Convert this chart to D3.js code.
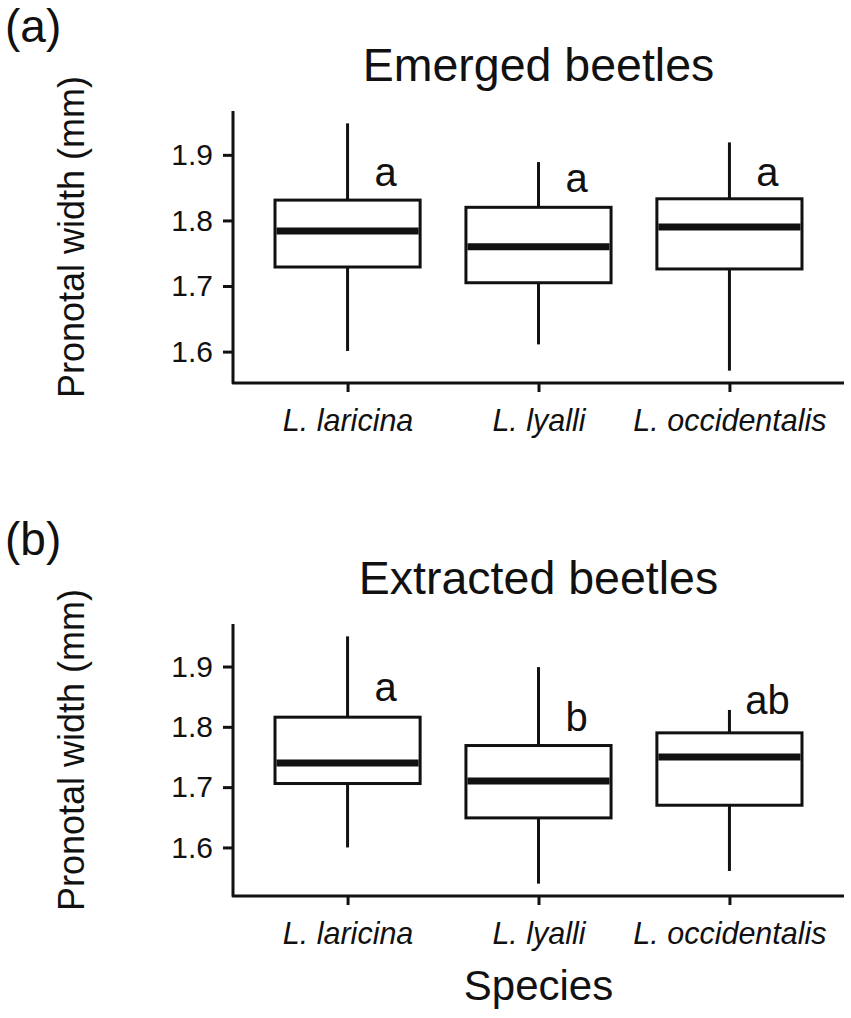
<!DOCTYPE html>
<html>
<head>
<meta charset="utf-8">
<script src="https://cdn.jsdelivr.net/npm/d3@7"></script>
<style>
  body { margin: 0; background: #fff; }
  text { font-family: "Liberation Sans", Arial, sans-serif; fill: #111; }
</style>
</head>
<body>
<svg id="scene" width="851" height="1018"></svg>
<script>
// species on the x axis
const species = ['L. laricina', 'L. lyalli', 'L. occidentalis'];
const yTicks = [1.6, 1.7, 1.8, 1.9];

// (a) emerged beetles: whisker ends, hinges, medians
const emergedLow  = [1.601, 1.611, 1.571];
const emergedQ1   = [1.729, 1.705, 1.726];
const emergedMed  = [1.784, 1.760, 1.790];
const emergedQ3   = [1.831, 1.820, 1.833];
const emergedHigh = [1.948, 1.889, 1.919];
const emergedLetters = ['a', 'a', 'a'];
const emergedLetterY = [1.852, 1.844, 1.853];

// (b) extracted beetles
const extractedLow  = [1.600, 1.540, 1.561];
const extractedQ1   = [1.706, 1.649, 1.670];
const extractedMed  = [1.740, 1.710, 1.750];
const extractedQ3   = [1.816, 1.769, 1.790];
const extractedHigh = [1.950, 1.899, 1.828];
const extractedLetters = ['a', 'b', 'ab'];
const extractedLetterY = [1.843, 1.793, 1.8205];

const left = 233, right = 844, plotH = 272;

let svg = d3.select('#scene');

let scaleX = d3.scalePoint().domain(species).range([left, right]).padding(0.6);

let panel = function (off, tag, title, low, q1, med, q3, high, letters, letterY) {
	let top = 111 + off;
	let bottom = top + plotH;
	let lo = d3.min(low), hi = d3.max(high);
	let pad = (hi - lo) * 0.05;
	let scaleY = d3.scaleLinear().domain([lo - pad, hi + pad]).range([bottom, top]);

	let g = svg.append('g');

	let data = species.map((s, i) => ({
		s: s, low: low[i], q1: q1[i], med: med[i], q3: q3[i], high: high[i],
		letter: letters[i], ly: letterY[i]
	}));
	let bw = scaleX.step() * 0.76;

	// whiskers
	g.selectAll('.whiskerUp').data(data).enter().append('line')
		.attr('x1', (d) => scaleX(d.s)).attr('x2', (d) => scaleX(d.s))
		.attr('y1', (d) => scaleY(d.q3)).attr('y2', (d) => scaleY(d.high))
		.attr('stroke', '#111').attr('stroke-width', 3);
	g.selectAll('.whiskerDown').data(data).enter().append('line')
		.attr('x1', (d) => scaleX(d.s)).attr('x2', (d) => scaleX(d.s))
		.attr('y1', (d) => scaleY(d.q1)).attr('y2', (d) => scaleY(d.low))
		.attr('stroke', '#111').attr('stroke-width', 3);

	// boxes
	g.selectAll('.box').data(data).enter().append('rect')
		.attr('x', (d) => scaleX(d.s) - bw / 2)
		.attr('width', bw)
		.attr('y', (d) => scaleY(d.q3))
		.attr('height', (d) => scaleY(d.q1) - scaleY(d.q3))
		.attr('fill', '#fff').attr('stroke', '#111').attr('stroke-width', 3);

	// medians
	g.selectAll('.median').data(data).enter().append('line')
		.attr('x1', (d) => scaleX(d.s) - bw / 2 + 1.5).attr('x2', (d) => scaleX(d.s) + bw / 2 - 1.5)
		.attr('y1', (d) => scaleY(d.med)).attr('y2', (d) => scaleY(d.med))
		.attr('stroke', '#111').attr('stroke-width', 7);

	// group letters
	g.selectAll('.letter').data(data).enter().append('text')
		.attr('x', (d) => scaleX(d.s) + 38)
		.attr('y', (d) => scaleY(d.ly))
		.attr('text-anchor', 'middle')
		.style('font-size', '40px')
		.text((d) => d.letter);

	// axes
	let ay = g.append('g').attr('transform', `translate(${left},0)`)
		.call(d3.axisLeft(scaleY).tickValues(yTicks).tickFormat(d3.format('.1f'))
			.tickSize(10).tickSizeOuter(0).tickPadding(10));
	ay.select('.domain').remove();
	ay.selectAll('line').attr('stroke', '#111').attr('stroke-width', 3);
	ay.selectAll('text').style('font-size', '30px').style('font-family', null).attr('fill', '#111');

	let ax = g.append('g').attr('transform', `translate(0,${bottom})`)
		.call(d3.axisBottom(scaleX).tickSize(9).tickSizeOuter(0).tickPadding(0));
	ax.select('.domain').remove();
	ax.selectAll('line').attr('stroke', '#111').attr('stroke-width', 3);
	ax.selectAll('text').attr('y', 48).attr('dy', null).attr('fill', '#111')
		.style('font-size', '30.5px').style('font-style', 'italic').style('font-family', null);

	// axis lines, joined at the corner
	g.append('path')
		.attr('d', `M${left},${top}V${bottom}H${right}`)
		.attr('fill', 'none').attr('stroke', '#111').attr('stroke-width', 3)
		.attr('stroke-linejoin', 'round');

	// tag, title, y title
	g.append('text').attr('x', 5).attr('y', 42 + off)
		.style('font-size', '46px').text(tag);
	g.append('text').attr('x', (left + right) / 2).attr('y', 81 + off)
		.attr('text-anchor', 'middle').style('font-size', '46.5px').text(title);
	g.append('text')
		.attr('transform', `translate(84,${237 + off}) rotate(-90)`)
		.attr('text-anchor', 'middle').style('font-size', '36px')
		.text('Pronotal width (mm)');
};

panel(0, '(a)', 'Emerged beetles',
	emergedLow, emergedQ1, emergedMed, emergedQ3, emergedHigh, emergedLetters, emergedLetterY);
panel(513, '(b)', 'Extracted beetles',
	extractedLow, extractedQ1, extractedMed, extractedQ3, extractedHigh, extractedLetters, extractedLetterY);

svg.append('text').attr('x', (left + right) / 2).attr('y', 1000)
	.attr('text-anchor', 'middle').style('font-size', '42px').text('Species');
</script>
</body>
</html>
